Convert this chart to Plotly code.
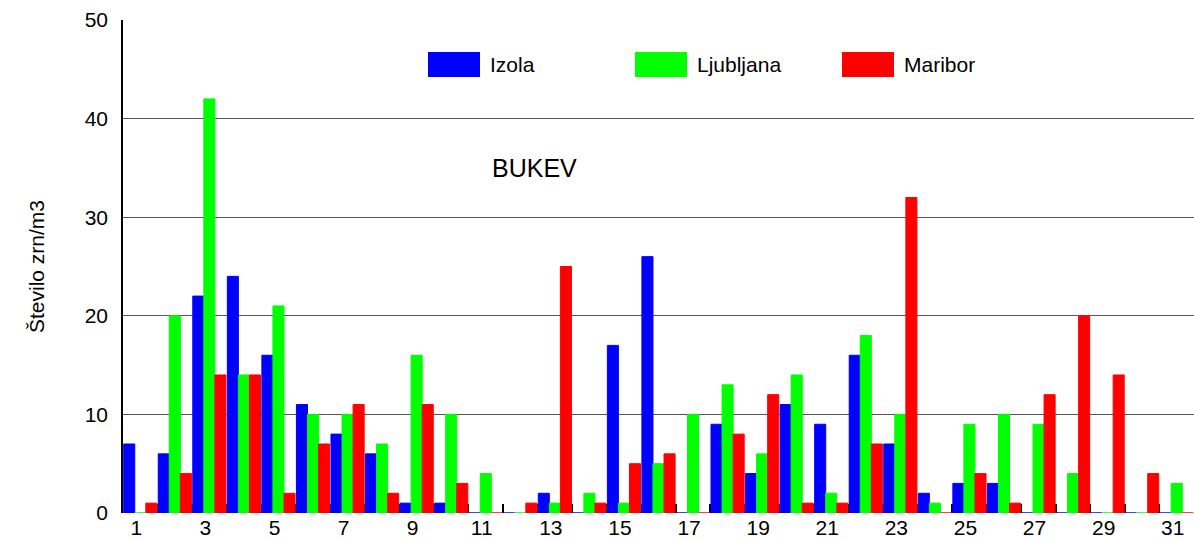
import plotly.graph_objects as go

# Daily beech (bukev) pollen counts, grains per m3, for one month
days = list(range(1, 32))
series_names = ["Izola", "Ljubljana", "Maribor"]
series_colors = ["#0000FF", "#00FF00", "#FF0000"]

izola = [7, 6, 22, 24, 16, 11, 8, 6, 1, 1, 0, 0, 2, 0, 17, 26, 0, 9, 4, 11,
         9, 16, 7, 2, 3, 3, 0, 0, 0, 0, 0]
ljubljana = [0, 20, 42, 14, 21, 10, 10, 7, 16, 10, 4, 0, 1, 2, 1, 5, 10, 13, 6, 14,
             2, 18, 10, 1, 9, 10, 9, 4, 0, 0, 3]
maribor = [1, 4, 14, 14, 2, 7, 11, 2, 11, 3, 0, 1, 25, 1, 5, 6, 0, 8, 12, 1,
           1, 7, 32, 0, 4, 1, 12, 20, 14, 4, 0]

x_tick_days = list(range(1, 32, 2))
y_ticks = [0, 10, 20, 30, 40, 50]

chart_title = "BUKEV"
y_title = "Število zrn/m3"

FONT = "Liberation Sans, Arial, Helvetica, sans-serif"
W, H = 1194, 540
ML, MR, MT, MB = 123, 0, 20, 27

fig = go.Figure()
for name, color, vals in zip(series_names, series_colors, [izola, ljubljana, maribor]):
    fig.add_trace(go.Bar(
        x=days, y=vals, name=name,
        marker=dict(color=color, line=dict(color=color, width=1)),
        showlegend=False,
    ))

# Legend drawn as large colour swatches with labels (pixel positions -> paper coords)
plot_w = W - ML - MR
plot_h = H - MT - MB


def px_x(px):
    return (px - ML) / plot_w


def px_y(py):
    return (H - MB - py) / plot_h


swatch_left = [428, 635, 842]
swatch_w, sw_top, sw_bot = 52, 52, 77
shapes = []
annotations = []
for name, color, left in zip(series_names, series_colors, swatch_left):
    shapes.append(dict(
        type="rect", xref="paper", yref="paper",
        x0=px_x(left), x1=px_x(left + swatch_w),
        y0=px_y(sw_bot), y1=px_y(sw_top),
        fillcolor=color, line=dict(width=0),
    ))
    annotations.append(dict(
        text=name, xref="paper", yref="paper",
        x=px_x(left + swatch_w + 8), y=px_y((sw_top + sw_bot) / 2),
        xanchor="left", yanchor="middle", showarrow=False,
        font=dict(family=FONT, size=21, color="black"),
    ))

annotations.append(dict(
    text=chart_title, xref="paper", yref="paper",
    x=px_x(534), y=px_y(168), xanchor="center", yanchor="middle",
    showarrow=False, font=dict(family=FONT, size=25, color="black"),
))

fig.update_layout(
    width=W, height=H,
    margin=dict(l=ML, r=MR, t=MT, b=MB, pad=0, autoexpand=False),
    paper_bgcolor="white", plot_bgcolor="white",
    barmode="group", bargap=0.04, bargroupgap=0,
    font=dict(family=FONT, size=21, color="black"),
    shapes=shapes, annotations=annotations,
    showlegend=False,
)

fig.update_xaxes(
    range=[0.5, 31.5], automargin=False,
    tickmode="array", tickvals=x_tick_days, ticktext=[str(d) for d in x_tick_days],
    ticks="", ticklabelshift=-4, ticklabelstandoff=0,
    showgrid=False, zeroline=False, showline=False,
    tickfont=dict(family=FONT, size=21, color="black"),
    minor=dict(tickvals=[d + 0.5 for d in days[:-1]], ticks="inside",
               ticklen=9, tickwidth=2, tickcolor="black", showgrid=False),
    layer="below traces",
)

fig.update_yaxes(
    range=[0, 50], automargin=False,
    tickmode="array", tickvals=y_ticks,
    ticks="", showgrid=True, gridcolor="#555555", gridwidth=1,
    zeroline=False, showline=True, linecolor="black", linewidth=1.5,
    tickfont=dict(family=FONT, size=21, color="black"),
    title=dict(text=y_title, font=dict(family=FONT, size=21, color="black"), standoff=34),
    ticklabelstandoff=9,
)

fig.write_html("out.html")
